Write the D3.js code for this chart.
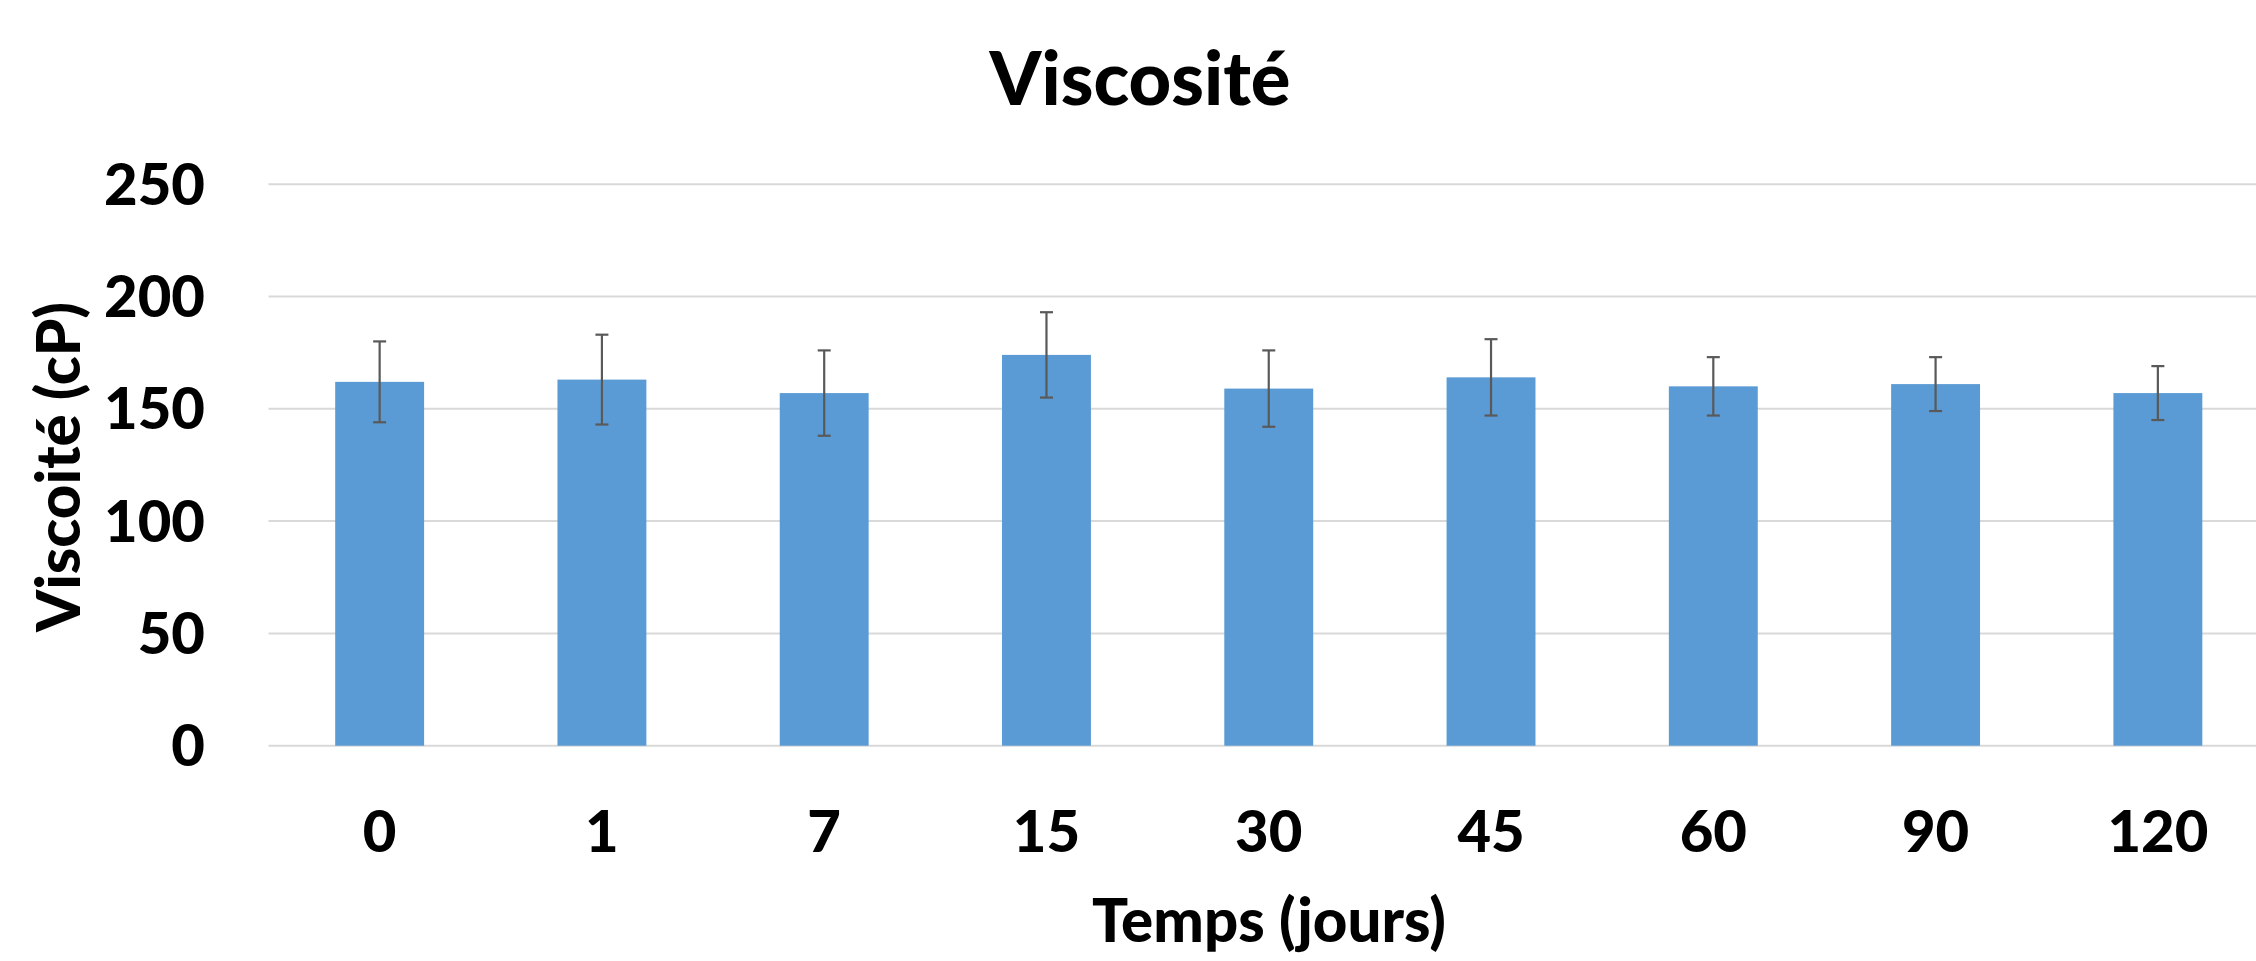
<!DOCTYPE html>
<html>
<head>
<meta charset="utf-8">
<script src="https://cdn.jsdelivr.net/npm/d3@7"></script>
<style>
  html, body { margin: 0; padding: 0; background: #ffffff; overflow: hidden; }
  svg { display: block; }
  text { font-family: Lato, "Open Sans", sans-serif; font-weight: 900; fill: #000000; }
</style>
</head>
<body>
<script>
const categories = ["0", "1", "7", "15", "30", "45", "60", "90", "120"];
const values = [162, 163, 157, 174, 159, 164, 160, 161, 157];
const errors = [18, 20, 19, 19, 17, 17, 13, 12, 12];
const yTicks = [0, 50, 100, 150, 200, 250];
const title = "Viscosité";
const xTitle = "Temps (jours)";
const yTitle = "Viscoité (cP)";

const W = 2256, H = 961;
const svg = d3.select("body").append("svg").attr("width", W).attr("height", H);

const x = d3.scaleBand().domain(categories).range([268.5, 2269]).paddingInner(0.6).paddingOuter(0.3);
const y = d3.scaleLinear().domain([0, 250]).range([745.7, 184.2]);

// gridlines
svg.append("g").selectAll("line").data(yTicks).join("line")
  .attr("x1", 268.5).attr("x2", 2269)
  .attr("y1", d => y(d)).attr("y2", d => y(d))
  .attr("stroke", "#d9d9d9").attr("stroke-width", 2);

// bars
svg.append("g").selectAll("rect").data(values).join("rect")
  .attr("x", (d, i) => x(categories[i]))
  .attr("width", x.bandwidth())
  .attr("y", d => y(d))
  .attr("height", d => y(0) - y(d))
  .attr("fill", "#5b9bd5");

// error bars
const eb = svg.append("g").attr("stroke", "#595959").attr("stroke-width", 2.2);
values.forEach((v, i) => {
  const cx = x(categories[i]) + x.bandwidth() / 2;
  const top = y(v + errors[i]), bot = y(v - errors[i]);
  eb.append("line").attr("x1", cx).attr("x2", cx).attr("y1", top).attr("y2", bot);
  eb.append("line").attr("x1", cx - 6.5).attr("x2", cx + 6.5).attr("y1", top).attr("y2", top);
  eb.append("line").attr("x1", cx - 6.5).attr("x2", cx + 6.5).attr("y1", bot).attr("y2", bot);
});

// y tick labels
svg.append("g").selectAll("text").data(yTicks).join("text")
  .attr("x", 205).attr("y", d => y(d) + 20.5)
  .attr("text-anchor", "end")
  .style("font-size", "58px")
  .text(d => d);

// x tick labels
svg.append("g").selectAll("text").data(categories).join("text")
  .attr("x", d => x(d) + x.bandwidth() / 2).attr("y", 852)
  .attr("text-anchor", "middle")
  .style("font-size", "58px")
  .text(d => d);

// title
svg.append("text").attr("x", 1140).attr("y", 105).attr("text-anchor", "middle")
  .style("font-size", "74px").text(title);

// x axis title
svg.append("text").attr("x", 1269).attr("y", 942).attr("text-anchor", "middle")
  .style("font-size", "60px").text(xTitle);

// y axis title
svg.append("text").attr("transform", "translate(80,467) rotate(-90)")
  .attr("text-anchor", "middle")
  .style("font-size", "60px").text(yTitle);
</script>
</body>
</html>
